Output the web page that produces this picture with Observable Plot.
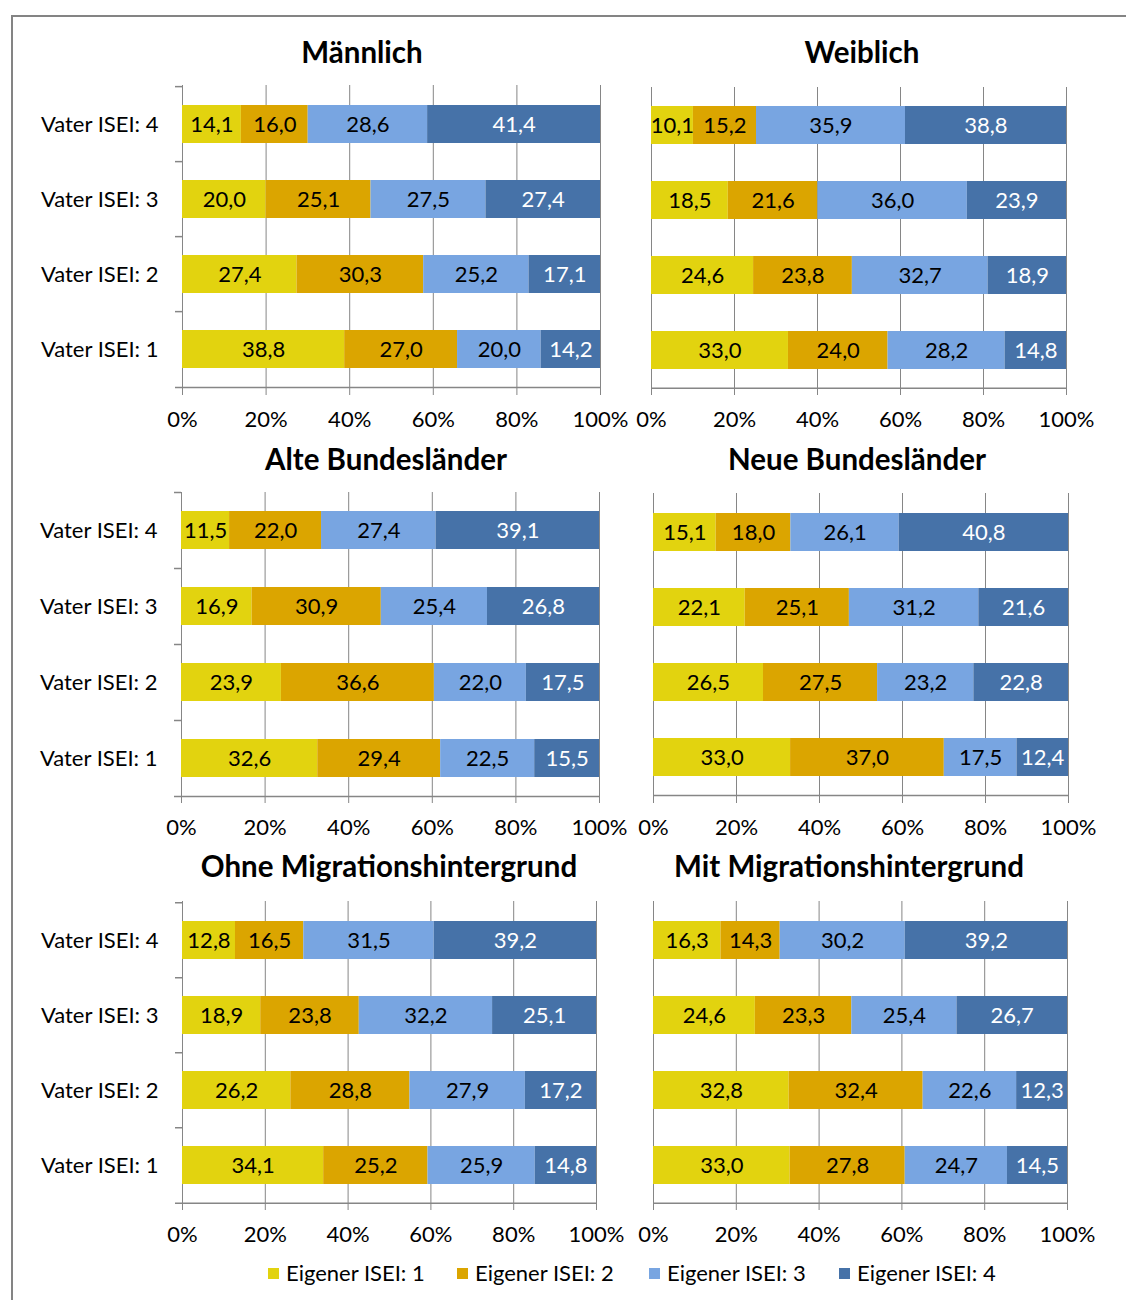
<!DOCTYPE html>
<html>
<head>
<meta charset="utf-8">
<script src="https://cdn.jsdelivr.net/npm/d3@7"></script>
<script src="https://cdn.jsdelivr.net/npm/@observablehq/plot@0.6"></script>
<style>
  body { margin: 0; background: #fff; }
  #root { position: relative; width: 1126px; height: 1300px; overflow: hidden; font-family: Lato, "Open Sans", sans-serif; color: #000; }
  .frame { position: absolute; left: 11px; top: 15px; right: -5px; bottom: -5px; border-left: 2px solid #848484; border-top: 2px solid #848484; }
  .title { position: absolute; transform: translateX(-50%); font-weight: 700; font-size: 29.5px; line-height: 30px; white-space: nowrap; }
  .panel { position: absolute; }
  .legend { position: absolute; top: 1262px; font-size: 22px; line-height: 22px; white-space: nowrap; }
  .sw { position: absolute; width: 11px; height: 11px; top: 6px; }
</style>
</head>
<body>
<div id="root"><div class="frame"></div></div>
<script>
// ---------- data ----------
const vater = ["Vater ISEI: 1", "Vater ISEI: 2", "Vater ISEI: 3", "Vater ISEI: 4"];
const eigener = ["Eigener ISEI: 1", "Eigener ISEI: 2", "Eigener ISEI: 3", "Eigener ISEI: 4"];
const colors = ["#E2D30F", "#DBA500", "#78A5E1", "#4672A8"];
const xTicks = [0, 0.2, 0.4, 0.6, 0.8, 1];
const titles = ["Männlich", "Weiblich", "Alte Bundesländer", "Neue Bundesländer", "Ohne Migrationshintergrund", "Mit Migrationshintergrund"];

// rows: Vater ISEI 1..4 ; columns: Eigener ISEI 1..4
const maennlich = [[38.8, 27.0, 20.0, 14.2], [27.4, 30.3, 25.2, 17.1], [20.0, 25.1, 27.5, 27.4], [14.1, 16.0, 28.6, 41.4]];
const weiblich  = [[33.0, 24.0, 28.2, 14.8], [24.6, 23.8, 32.7, 18.9], [18.5, 21.6, 36.0, 23.9], [10.1, 15.2, 35.9, 38.8]];
const alteBL    = [[32.6, 29.4, 22.5, 15.5], [23.9, 36.6, 22.0, 17.5], [16.9, 30.9, 25.4, 26.8], [11.5, 22.0, 27.4, 39.1]];
const neueBL    = [[33.0, 37.0, 17.5, 12.4], [26.5, 27.5, 23.2, 22.8], [22.1, 25.1, 31.2, 21.6], [15.1, 18.0, 26.1, 40.8]];
const ohneMig   = [[34.1, 25.2, 25.9, 14.8], [26.2, 28.8, 27.9, 17.2], [18.9, 23.8, 32.2, 25.1], [12.8, 16.5, 31.5, 39.2]];
const mitMig    = [[33.0, 27.8, 24.7, 14.5], [32.8, 32.4, 22.6, 12.3], [24.6, 23.3, 25.4, 26.7], [16.3, 14.3, 30.2, 39.2]];
const series = [maennlich, weiblich, alteBL, neueBL, ohneMig, mitMig];

// ---------- layout (pixel geometry of each plot area) ----------
const layout = [
  {col: 0, x0: 182, x1: 600, y0: 85, y1: 388, tx: 362, ty: 52},
  {col: 1, x0: 651, x1: 1066, y0: 87, y1: 388, tx: 862, ty: 52},
  {col: 0, x0: 181, x1: 599, y0: 492, y1: 796, tx: 386, ty: 459},
  {col: 1, x0: 653, x1: 1068, y0: 493, y1: 796, tx: 857, ty: 459},
  {col: 0, x0: 182, x1: 596, y0: 901, y1: 1203, tx: 389, ty: 866},
  {col: 1, x0: 653, x1: 1067, y0: 901, y1: 1203, tx: 849, ty: 866}
];

const root = document.getElementById("root");
const fmtPct = d => `${Math.round(d * 100)}%`;
const fmtVal = d => d.toFixed(1).replace(".", ",");
const grid = "#868686";
const FONT = "Lato, 'Open Sans', sans-serif";

layout.forEach((L, k) => {
  const arr = series[k];
  const data = vater.flatMap((v, i) => eigener.map((e, j) => ({vater: v, eigener: e, j, value: arr[i][j]})));
  const svgLeft = L.col === 0 ? 0 : 626;
  const svgWidth = L.col === 0 ? 630 : 500;
  const mt = 10, mb = 50;
  const height = (L.y1 - L.y0) + mt + mb;
  const step = (L.y1 - L.y0) / vater.length;

  const marks = [
    Plot.gridX(xTicks, {stroke: grid, strokeOpacity: 1, strokeWidth: 1}),
    Plot.barX(data, Plot.stackX({offset: "normalize", x: "value", y: "vater", z: "eigener", fill: d => colors[d.j]})),
    Plot.text(data, Plot.stackX({offset: "normalize", x: "value", y: "vater", z: "eigener",
      text: d => fmtVal(d.value), fill: d => d.j === 3 ? "#ffffff" : "#000000",
      fontSize: 22, fontFamily: FONT})),
    // bottom axis line (extends slightly left)
    Plot.ruleY([vater[0]], {y: d => d, x1: 0, x2: 1, dy: step / 2, insetLeft: L.col === 0 ? -7 : 0, stroke: grid, strokeWidth: 1.5}),
    Plot.axisX({ticks: xTicks, tickFormat: fmtPct, tickSize: 7, tickPadding: 16, stroke: grid, fontSize: 22, fontFamily: FONT, label: null})
  ];
  if (L.col === 0) {
    marks.push(Plot.ruleY(vater, {y: d => d, x1: 0, x2: 0, dy: -step / 2, insetLeft: -7, stroke: grid, strokeWidth: 1.5}));
    marks.push(Plot.axisY({tickSize: 0, tickPadding: 24, fontSize: 22, fontFamily: FONT, label: null}));
  }

  const svg = Plot.plot({
    width: svgWidth,
    height,
    marginLeft: L.x0 - svgLeft,
    marginRight: svgWidth - (L.x1 - svgLeft),
    marginTop: mt,
    marginBottom: mb,
    style: {background: "transparent", overflow: "visible", fontFamily: FONT, color: "#000"},
    x: {domain: [0, 1], axis: null},
    y: {domain: vater.slice().reverse(), paddingInner: 0.5, paddingOuter: 0.25, axis: null},
    color: {type: "identity"},
    marks
  });
  const wrap = document.createElement("div");
  wrap.className = "panel";
  wrap.style.left = svgLeft + "px";
  wrap.style.top = (L.y0 - mt) + "px";
  wrap.appendChild(svg);
  root.appendChild(wrap);

  const t = document.createElement("div");
  t.className = "title";
  t.textContent = titles[k];
  t.style.left = L.tx + "px";
  t.style.top = (L.ty - 15) + "px";
  root.appendChild(t);
});

// ---------- legend ----------
const legendX = [268, 457, 649, 839];
eigener.forEach((name, j) => {
  const item = document.createElement("div");
  item.className = "legend";
  item.style.left = legendX[j] + "px";
  item.innerHTML = `<span class="sw" style="left:0;background:${colors[j]}"></span><span style="position:relative;left:18px">${name}</span>`;
  root.appendChild(item);
});
</script>
</body>
</html>
